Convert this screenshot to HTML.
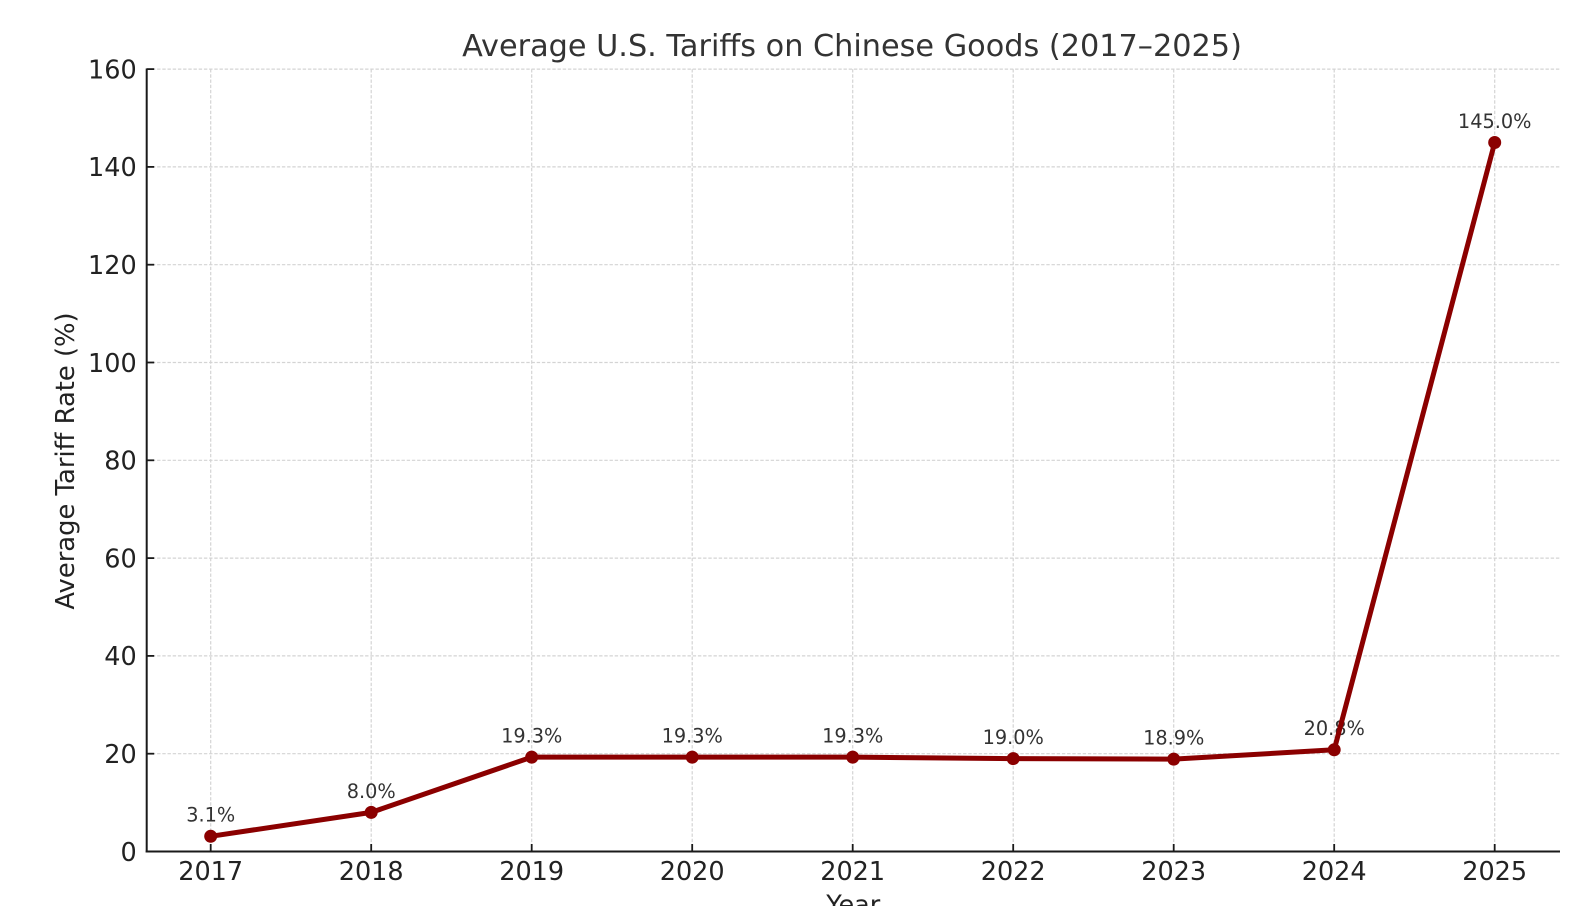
<!DOCTYPE html>
<html>
<head>
<meta charset="utf-8">
<style>
  html, body { margin: 0; padding: 0; background: #ffffff; }
  body { width: 1584px; height: 906px; overflow: hidden; }
  svg { display: block; }
  text { font-family: "DejaVu Sans", "Liberation Sans", sans-serif; }
</style>
</head>
<body>
<svg width="1584" height="906" viewBox="0 0 1584 906" xmlns="http://www.w3.org/2000/svg">
  <rect x="0" y="0" width="1584" height="906" fill="#ffffff"/>

  <!-- grid -->
  <g stroke="#d4d4d4" stroke-width="1.2" stroke-dasharray="3.4,1.8" fill="none">
    <line x1="146.7" y1="753.7" x2="1560" y2="753.7"/>
    <line x1="146.7" y1="655.9" x2="1560" y2="655.9"/>
    <line x1="146.7" y1="558.1" x2="1560" y2="558.1"/>
    <line x1="146.7" y1="460.3" x2="1560" y2="460.3"/>
    <line x1="146.7" y1="362.5" x2="1560" y2="362.5"/>
    <line x1="146.7" y1="264.7" x2="1560" y2="264.7"/>
    <line x1="146.7" y1="166.9" x2="1560" y2="166.9"/>
    <line x1="146.7" y1="69.1" x2="1560" y2="69.1"/>
    <line x1="210.7" y1="69.1" x2="210.7" y2="851.5"/>
    <line x1="371.2" y1="69.1" x2="371.2" y2="851.5"/>
    <line x1="531.7" y1="69.1" x2="531.7" y2="851.5"/>
    <line x1="692.2" y1="69.1" x2="692.2" y2="851.5"/>
    <line x1="852.7" y1="69.1" x2="852.7" y2="851.5"/>
    <line x1="1013.2" y1="69.1" x2="1013.2" y2="851.5"/>
    <line x1="1173.7" y1="69.1" x2="1173.7" y2="851.5"/>
    <line x1="1334.2" y1="69.1" x2="1334.2" y2="851.5"/>
    <line x1="1494.7" y1="69.1" x2="1494.7" y2="851.5"/>
  </g>

  <!-- spines -->
  <g stroke="#1a1a1a" stroke-width="2" fill="none">
    <line x1="146.7" y1="68.5" x2="146.7" y2="852.5"/>
    <line x1="145.7" y1="851.5" x2="1560" y2="851.5"/>
  </g>

  <!-- ticks (inward) -->
  <g stroke="#1a1a1a" stroke-width="1.8">
    <line x1="146.7" y1="753.7" x2="154.2" y2="753.7"/>
    <line x1="146.7" y1="655.9" x2="154.2" y2="655.9"/>
    <line x1="146.7" y1="558.1" x2="154.2" y2="558.1"/>
    <line x1="146.7" y1="460.3" x2="154.2" y2="460.3"/>
    <line x1="146.7" y1="362.5" x2="154.2" y2="362.5"/>
    <line x1="146.7" y1="264.7" x2="154.2" y2="264.7"/>
    <line x1="146.7" y1="166.9" x2="154.2" y2="166.9"/>
    <line x1="146.7" y1="69.1" x2="154.2" y2="69.1"/>
    <line x1="210.7" y1="851.5" x2="210.7" y2="844"/>
    <line x1="371.2" y1="851.5" x2="371.2" y2="844"/>
    <line x1="531.7" y1="851.5" x2="531.7" y2="844"/>
    <line x1="692.2" y1="851.5" x2="692.2" y2="844"/>
    <line x1="852.7" y1="851.5" x2="852.7" y2="844"/>
    <line x1="1013.2" y1="851.5" x2="1013.2" y2="844"/>
    <line x1="1173.7" y1="851.5" x2="1173.7" y2="844"/>
    <line x1="1334.2" y1="851.5" x2="1334.2" y2="844"/>
    <line x1="1494.7" y1="851.5" x2="1494.7" y2="844"/>
  </g>

  <!-- y tick labels -->
  <g font-size="25.5" fill="#222222" text-anchor="end">
    <text x="136.7" y="860.8">0</text>
    <text x="136.7" y="763">20</text>
    <text x="136.7" y="665.2">40</text>
    <text x="136.7" y="567.4">60</text>
    <text x="136.7" y="469.6">80</text>
    <text x="136.7" y="371.8">100</text>
    <text x="136.7" y="274">120</text>
    <text x="136.7" y="176.2">140</text>
    <text x="136.7" y="78.4">160</text>
  </g>

  <!-- x tick labels -->
  <g font-size="25.5" fill="#222222" text-anchor="middle">
    <text x="210.7" y="879.8">2017</text>
    <text x="371.2" y="879.8">2018</text>
    <text x="531.7" y="879.8">2019</text>
    <text x="692.2" y="879.8">2020</text>
    <text x="852.7" y="879.8">2021</text>
    <text x="1013.2" y="879.8">2022</text>
    <text x="1173.7" y="879.8">2023</text>
    <text x="1334.2" y="879.8">2024</text>
    <text x="1494.7" y="879.8">2025</text>
  </g>

  <!-- axis labels -->
  <text x="853.3" y="913.5" font-size="25.5" fill="#222222" text-anchor="middle">Year</text>
  <text transform="translate(73.8,461) rotate(-90)" font-size="25.8" fill="#222222" text-anchor="middle">Average Tariff Rate (%)</text>

  <!-- title -->
  <text x="852" y="56" font-size="30.3" fill="#333333" text-anchor="middle">Average U.S. Tariffs on Chinese Goods (2017–2025)</text>

  <!-- data labels -->
  <g font-size="19.3" fill="#333333" text-anchor="middle">
    <text x="210.7" y="821.7">3.1%</text>
    <text x="371.2" y="797.8">8.0%</text>
    <text x="531.7" y="742.4">19.3%</text>
    <text x="692.2" y="742.4">19.3%</text>
    <text x="852.7" y="742.4">19.3%</text>
    <text x="1013.2" y="743.9">19.0%</text>
    <text x="1173.7" y="744.4">18.9%</text>
    <text x="1334.2" y="735.1">20.8%</text>
    <text x="1494.7" y="128.2">145.0%</text>
  </g>

  <!-- series -->
  <polyline fill="none" stroke="#8b0000" stroke-width="5" stroke-linejoin="round" stroke-linecap="round"
    points="210.7,836.3 371.2,812.4 531.7,757.1 692.2,757.1 852.7,757.1 1013.2,758.6 1173.7,759.1 1334.2,749.8 1494.7,142.5"/>
  <g fill="#8b0000">
    <circle cx="210.7" cy="836.3" r="6.5"/>
    <circle cx="371.2" cy="812.4" r="6.5"/>
    <circle cx="531.7" cy="757.1" r="6.5"/>
    <circle cx="692.2" cy="757.1" r="6.5"/>
    <circle cx="852.7" cy="757.1" r="6.5"/>
    <circle cx="1013.2" cy="758.6" r="6.5"/>
    <circle cx="1173.7" cy="759.1" r="6.5"/>
    <circle cx="1334.2" cy="749.8" r="6.5"/>
    <circle cx="1494.7" cy="142.5" r="6.5"/>
  </g>
</svg>
</body>
</html>
